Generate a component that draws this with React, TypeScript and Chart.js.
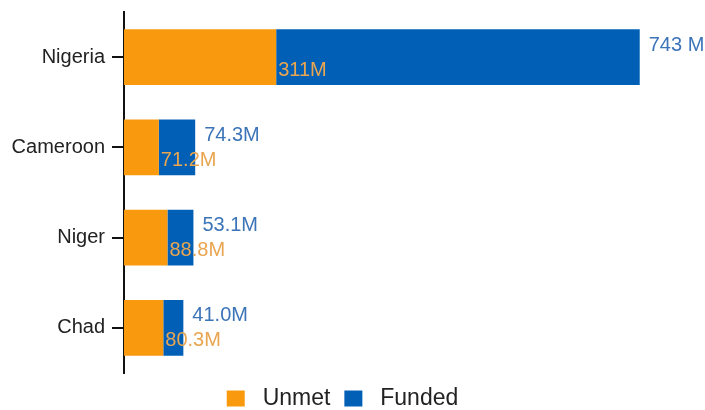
import React, { useEffect, useRef } from "react";
import { Chart, registerables } from "chart.js";

Chart.register(...registerables);

const countries = ["Nigeria", "Cameroon", "Niger", "Chad"];
const unmet = [311, 71.2, 88.8, 80.3];
const funded = [743, 74.3, 53.1, 41.0];
const unmetLabels = ["311M", "71.2M", "88.8M", "80.3M"];
const fundedLabels = ["743 M", "74.3M", "53.1M", "41.0M"];
const seriesNames = ["Unmet", "Funded"];

const FONT = "'Liberation Sans', Arial, sans-serif";

const labelPlugin = {
  id: "barLabels",
  afterDatasetsDraw(chart: any) {
    const ctx = chart.ctx;
    const m0 = chart.getDatasetMeta(0).data;
    const m1 = chart.getDatasetMeta(1).data;
    ctx.save();
    ctx.font = `20px ${FONT}`;
    ctx.textAlign = "left";
    ctx.textBaseline = "middle";
    for (let i = 0; i < countries.length; i++) {
      const b0 = m0[i];
      const b1 = m1[i];
      ctx.fillStyle = "#3C74B8";
      ctx.fillText(fundedLabels[i], b1.x + 9, b1.y - 12);
      ctx.fillStyle = "#E9A550";
      ctx.fillText(unmetLabels[i], b0.x + 2, b0.y + 13);
    }
    ctx.restore();
  },
};

export default function App() {
  const ref = useRef<HTMLCanvasElement>(null);
  useEffect(() => {
    document.body.style.margin = "0";
    const chart = new Chart(ref.current!, {
      type: "bar",
      data: {
        labels: countries,
        datasets: [
          {
            label: seriesNames[0],
            data: unmet,
            backgroundColor: "#F99A0E",
            borderWidth: 0,
            barPercentage: 0.62,
            categoryPercentage: 1,
          },
          {
            label: seriesNames[1],
            data: funded,
            backgroundColor: "#0160B6",
            borderWidth: 0,
            barPercentage: 0.62,
            categoryPercentage: 1,
          },
        ],
      },
      options: {
        indexAxis: "y",
        animation: false,
        responsive: false,
        maintainAspectRatio: false,
        layout: { padding: { left: 12, right: 32, top: 12, bottom: 0 } },
        scales: {
          x: { display: false, stacked: true, min: 0, max: 1122 },
          y: {
            stacked: true,
            afterFit(scale: any) {
              scale.width = 112;
              scale.paddingTop = 0;
              scale.paddingBottom = 0;
            },
            border: { display: true, color: "#111", width: 2 },
            grid: {
              display: true,
              drawOnChartArea: false,
              drawTicks: true,
              tickLength: 12,
              color: "#111",
              lineWidth: 2,
              offset: false,
            },
            ticks: {
              padding: 7,
              color: "#222",
              font: { family: FONT, size: 20 },
            },
          },
        },
        plugins: {
          tooltip: { enabled: false },
          legend: {
            position: "bottom",
            maxHeight: 37,
            labels: {
              color: "#222",
              font: { family: FONT, size: 23 },
              boxWidth: 18,
              boxHeight: 16,
              padding: 14,
              generateLabels(c: any) {
                const items = Chart.defaults.plugins.legend.labels.generateLabels(c);
                return items.map((it: any) => ({ ...it, text: " " + it.text, lineWidth: 0 }));
              },
            },
          },
        },
      },
      plugins: [labelPlugin],
    });
    return () => chart.destroy();
  }, []);
  return <canvas ref={ref} width={705} height={410} style={{ display: "block" }} />;
}
